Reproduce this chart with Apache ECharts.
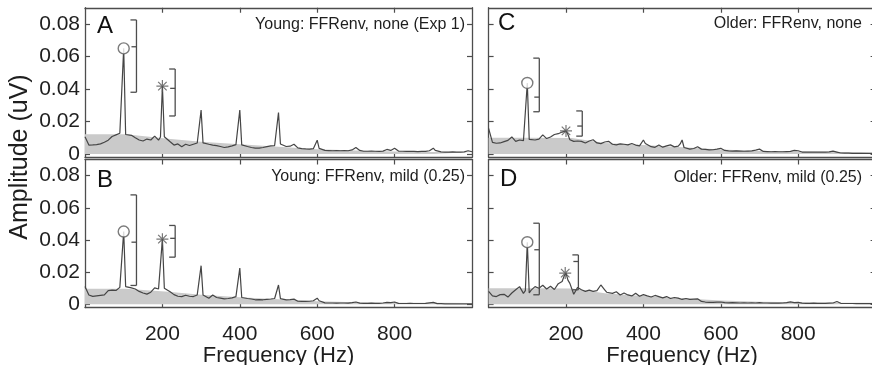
<!DOCTYPE html>
<html><head><meta charset="utf-8">
<script src="https://cdn.jsdelivr.net/npm/echarts@6/dist/echarts.min.js"></script>
<style>html,body{margin:0;padding:0;background:#fff}#c{width:872px;height:365px}</style>
</head><body><div id="c"></div>
<script>
// Frequency grid (Hz)
const freq = [
  0,10,20,30,40,50,60,70,80,90,95,
  100,105,110,120,130,140,150,160,170,180,190,195,
  200,205,210,220,230,240,250,260,270,280,290,295,
  300,305,310,320,330,340,350,360,370,380,390,395,
  400,405,410,420,430,440,450,460,470,480,490,495,
  500,505,510,520,530,540,550,560,570,580,590,595,
  600,605,610,620,630,640,650,660,670,680,690,695,
  700,705,710,720,730,740,750,760,770,780,790,795,
  800,805,810,820,830,840,850,860,870,880,890,895,
  900,905,910,920,930,940,950,960,970,980,990,995,
  1000];

// Panel A: Young, none (Exp 1)
const ampA = [
  0.0106,0.0055,0.0056,0.0058,0.0062,0.0072,0.0085,0.0108,0.0118,0.0128,0.0122,
  0.0650,0.0120,0.0118,0.0115,0.0100,0.0086,0.0080,0.0092,0.0086,0.0110,0.0085,0.0105,
  0.0418,0.0106,0.0104,0.0075,0.0055,0.0062,0.0045,0.0060,0.0052,0.0060,0.0068,0.0075,
  0.0270,0.0068,0.0066,0.0060,0.0055,0.0052,0.0046,0.0040,0.0044,0.0050,0.0058,0.0060,
  0.0270,0.0056,0.0055,0.0046,0.0040,0.0036,0.0036,0.0040,0.0045,0.0050,0.0052,0.0053,
  0.0255,0.0062,0.0060,0.0046,0.0048,0.0060,0.0038,0.0033,0.0031,0.0030,0.0033,0.0038,
  0.0085,0.0035,0.0030,0.0022,0.0021,0.0020,0.0021,0.0020,0.0021,0.0020,0.0025,0.0030,
  0.0040,0.0030,0.0022,0.0017,0.0017,0.0018,0.0017,0.0016,0.0018,0.0028,0.0022,0.0030,
  0.0036,0.0025,0.0018,0.0017,0.0016,0.0017,0.0016,0.0015,0.0016,0.0016,0.0020,0.0028,
  0.0036,0.0022,0.0014,0.0013,0.0012,0.0012,0.0013,0.0012,0.0012,0.0013,0.0020,0.0024,
  0.0014];

// Panel B: Young, mild (0.25)
const ampB = [
  0.0110,0.0058,0.0049,0.0052,0.0055,0.0058,0.0085,0.0088,0.0086,0.0105,0.0100,
  0.0452,0.0110,0.0110,0.0102,0.0095,0.0080,0.0070,0.0063,0.0075,0.0102,0.0095,0.0098,
  0.0405,0.0100,0.0098,0.0078,0.0060,0.0050,0.0048,0.0056,0.0050,0.0048,0.0058,0.0060,
  0.0240,0.0058,0.0052,0.0038,0.0058,0.0042,0.0038,0.0034,0.0036,0.0040,0.0048,0.0050,
  0.0225,0.0042,0.0040,0.0036,0.0033,0.0028,0.0029,0.0028,0.0031,0.0033,0.0036,0.0040,
  0.0120,0.0035,0.0028,0.0027,0.0029,0.0032,0.0019,0.0018,0.0018,0.0019,0.0022,0.0028,
  0.0038,0.0022,0.0014,0.0009,0.0008,0.0008,0.0007,0.0008,0.0008,0.0007,0.0010,0.0012,
  0.0014,0.0010,0.0007,0.0006,0.0006,0.0007,0.0006,0.0006,0.0008,0.0012,0.0010,0.0012,
  0.0014,0.0009,0.0006,0.0005,0.0005,0.0006,0.0005,0.0005,0.0005,0.0006,0.0009,0.0012,
  0.0012,0.0006,0.0004,0.0004,0.0003,0.0003,0.0003,0.0003,0.0002,0.0002,0.0002,0.0002,
  0.0002];

// Panel C: Older, none
const ampC = [
  0.0158,0.0072,0.0066,0.0068,0.0076,0.0084,0.0105,0.0078,0.0086,0.0082,0.0088,
  0.0437,0.0090,0.0090,0.0086,0.0092,0.0118,0.0095,0.0105,0.0120,0.0125,0.0135,0.0138,
  0.0142,0.0120,0.0088,0.0078,0.0080,0.0078,0.0068,0.0080,0.0088,0.0068,0.0064,0.0070,
  0.0074,0.0080,0.0078,0.0060,0.0056,0.0062,0.0060,0.0056,0.0065,0.0055,0.0050,0.0062,
  0.0086,0.0065,0.0055,0.0045,0.0041,0.0055,0.0042,0.0050,0.0056,0.0044,0.0048,0.0062,
  0.0086,0.0040,0.0030,0.0030,0.0034,0.0045,0.0030,0.0028,0.0025,0.0026,0.0030,0.0033,
  0.0035,0.0028,0.0022,0.0019,0.0018,0.0019,0.0018,0.0017,0.0018,0.0019,0.0024,0.0028,
  0.0030,0.0022,0.0016,0.0015,0.0014,0.0015,0.0014,0.0014,0.0015,0.0016,0.0022,0.0025,
  0.0020,0.0014,0.0012,0.0012,0.0011,0.0012,0.0011,0.0011,0.0012,0.0013,0.0018,0.0016,
  0.0012,0.0008,0.0006,0.0005,0.0005,0.0004,0.0004,0.0004,0.0004,0.0004,0.0004,0.0004,
  0.0004];

// Panel D: Older, mild (0.25)
const ampD = [
  0.0080,0.0052,0.0048,0.0060,0.0062,0.0045,0.0070,0.0090,0.0110,0.0068,0.0085,
  0.0386,0.0070,0.0088,0.0110,0.0100,0.0118,0.0095,0.0112,0.0092,0.0128,0.0142,0.0175,
  0.0194,0.0150,0.0130,0.0062,0.0105,0.0090,0.0080,0.0088,0.0080,0.0085,0.0120,0.0130,
  0.0090,0.0075,0.0070,0.0068,0.0078,0.0058,0.0070,0.0058,0.0052,0.0068,0.0050,0.0055,
  0.0060,0.0058,0.0052,0.0045,0.0055,0.0048,0.0040,0.0048,0.0036,0.0042,0.0038,0.0032,
  0.0030,0.0034,0.0036,0.0030,0.0032,0.0034,0.0018,0.0014,0.0012,0.0012,0.0014,0.0013,
  0.0014,0.0012,0.0010,0.0009,0.0010,0.0009,0.0008,0.0009,0.0008,0.0009,0.0008,0.0009,
  0.0010,0.0009,0.0008,0.0008,0.0007,0.0008,0.0007,0.0008,0.0010,0.0015,0.0010,0.0009,
  0.0012,0.0008,0.0007,0.0006,0.0006,0.0007,0.0006,0.0006,0.0006,0.0007,0.0008,0.0012,
  0.0017,0.0008,0.0006,0.0005,0.0005,0.0005,0.0004,0.0004,0.0004,0.0004,0.0004,0.0004,
  0.0004];

// Noise floor (grey area)
const noiseFreq = [0,105,215,300,400,500,600,700,800,900,1000];
const noiseA = [0.0121,0.0121,0.0094,0.0075,0.0060,0.0045,0.0030,0.0021,0.0016,0.0013,0.0012];
const noiseB = [0.0096,0.0096,0.0078,0.0060,0.0044,0.0031,0.0019,0.0013,0.0010,0.0009,0.0008];
const noiseC = [0.0100,0.0100,0.0098,0.0068,0.0055,0.0042,0.0028,0.0019,0.0015,0.0012,0.0010];
const noiseD = [0.0100,0.0100,0.0098,0.0068,0.0052,0.0038,0.0024,0.0016,0.0012,0.0010,0.0009];

// Markers: F0 (circle) and 2F0 (asterisk) peaks
const circleA = [100, 0.0650], circleB = [100, 0.0452], circleC = [100, 0.0437], circleD = [100, 0.0386];
const starA = [200, 0.0418], starB = [200, 0.0405], starC = [200, 0.0142], starD = [198, 0.0194];

// Range brackets: [freq, low, mid, high]
const bracketsA = [[133, 0.0380, 0.0660, 0.0825], [233, 0.0234, 0.0404, 0.0523]];
const bracketsB = [[133, 0.0117, 0.0386, 0.0680], [233, 0.0293, 0.0410, 0.0490]];
const bracketsC = [[131, 0.0260, 0.0350, 0.0590], [242, 0.0110, 0.0172, 0.0265]];
const bracketsD = [[131, 0.0059, 0.0339, 0.0504], [232, 0.0090, 0.0266, 0.0307]];

const panelTitles = ['Young: FFRenv, none (Exp 1)', 'Young: FFRenv, mild (0.25)', 'Older: FFRenv, none', 'Older: FFRenv, mild (0.25)'];
const panelLetters = ['A', 'B', 'C', 'D'];
const xTicks = [200, 400, 600, 800];
const yTicks = [0, 0.02, 0.04, 0.06, 0.08];
const xName = 'Frequency (Hz)';
const yName = 'Amplitude (uV)';

// ---------- layout / style ----------
const FONT = '"Liberation Sans", Arial, sans-serif';
const FRAME = '#4d4d4d';
const TEXT = '#1e1e1e';
const LINE = '#454545';

const grids = [
  {left: 85, top: 7.75, width: 387, height: 149.5},
  {left: 85, top: 159.5, width: 387, height: 148},
  {left: 488.6, top: 7.75, width: 387, height: 149.5},
  {left: 488.6, top: 159.5, width: 387, height: 148}
];
const showX = [false, true, false, true];
const showY = [true, true, false, false];
const amps = [ampA, ampB, ampC, ampD];
const noises = [noiseA, noiseB, noiseC, noiseD];
const circles = [circleA, circleB, circleC, circleD];
const stars = [starA, starB, starC, starD];
const brackets = [bracketsA, bracketsB, bracketsC, bracketsD];
const titlePos = [[465, 25], [465, 177], [862, 24], [862, 178]];
const letterPos = [[97, 26.5], [97, 180], [498, 23.5], [500, 179]];

const xAxis = [], yAxis = [], series = [], graphic = [];
grids.forEach((g, i) => {
  const axLine = {show: true, onZero: false, lineStyle: {color: FRAME, width: 1.3}};
  const xb = {type: 'value', gridIndex: i, min: 0, max: 1000, axisLine: axLine,
    axisTick: {show: true, inside: true, length: 5, customValues: xTicks, lineStyle: {color: FRAME, width: 1.2}},
    splitLine: {show: false}};
  xAxis.push(Object.assign({}, xb, {position: 'bottom',
    axisLabel: {show: showX[i], customValues: xTicks, fontSize: 21, color: TEXT, margin: 16, fontFamily: FONT},
    name: showX[i] ? xName : '', nameLocation: 'middle', nameGap: 33,
    nameTextStyle: {fontSize: 22, color: TEXT, fontFamily: FONT}}));
  xAxis.push(Object.assign({}, xb, {position: 'top', axisLabel: {show: false}}));
  const yb = {type: 'value', gridIndex: i, min: -0.002, max: 0.09, axisLine: axLine,
    axisTick: {show: true, inside: true, length: 5, customValues: yTicks, lineStyle: {color: FRAME, width: 1.2}},
    splitLine: {show: false}};
  yAxis.push(Object.assign({}, yb, {position: 'left',
    axisLabel: {show: showY[i], customValues: yTicks, fontSize: 21, color: TEXT, margin: 5, fontFamily: FONT,
      formatter: v => (Math.abs(v) < 1e-9 ? '0' : v.toFixed(2))}}));
  yAxis.push(Object.assign({}, yb, {position: 'right', axisLabel: {show: false}}));

  const xi = 2 * i, yi = 2 * i;
  series.push({type: 'line', xAxisIndex: xi, yAxisIndex: yi, z: 2, silent: true,
    data: noiseFreq.map((f, k) => [f, noises[i][k]]), symbol: 'none',
    lineStyle: {width: 0}, areaStyle: {color: '#cacaca', opacity: 1}});
  series.push({type: 'line', xAxisIndex: xi, yAxisIndex: yi, z: 3, silent: true,
    data: freq.map((f, k) => [f, amps[i][k]]), symbol: 'none',
    lineStyle: {color: LINE, width: 1.2}});
  series.push({type: 'custom', xAxisIndex: xi, yAxisIndex: yi, z: 4, silent: true,
    data: brackets[i], encode: {x: 0, y: [1, 2, 3]},
    renderItem: function (params, api) {
      const f = api.value(0);
      const lo = api.coord([f, api.value(1)]);
      const mid = api.coord([f, api.value(2)]);
      const hi = api.coord([f, api.value(3)]);
      const x = lo[0];
      const st = {stroke: FRAME, lineWidth: 1.3, fill: null};
      return {type: 'group', children: [
        {type: 'line', shape: {x1: x, y1: lo[1], x2: x, y2: hi[1]}, style: st},
        {type: 'line', shape: {x1: x - 6, y1: hi[1], x2: x, y2: hi[1]}, style: st},
        {type: 'line', shape: {x1: x - 6, y1: lo[1], x2: x, y2: lo[1]}, style: st},
        {type: 'line', shape: {x1: x - 5, y1: mid[1], x2: x, y2: mid[1]}, style: st}
      ]};
    }});
  series.push({type: 'scatter', xAxisIndex: xi, yAxisIndex: yi, z: 5, silent: true,
    data: [circles[i]], symbol: 'circle', symbolSize: 11,
    itemStyle: {color: '#ffffff', borderColor: '#5a5a5a', borderWidth: 1.4}});
  series.push({type: 'scatter', xAxisIndex: xi, yAxisIndex: yi, z: 5, silent: true,
    data: [stars[i]], symbolSize: 12, symbolKeepAspect: true,
    symbol: 'path://M12 0L12 24M0 12L24 12M3.5 3.5L20.5 20.5M3.5 20.5L20.5 3.5',
    itemStyle: {color: 'rgba(0,0,0,0)', borderColor: '#555555', borderWidth: 1.2}});

  graphic.push({type: 'text', x: titlePos[i][0], y: titlePos[i][1], z: 10, silent: true,
    style: {text: panelTitles[i], font: '16px ' + FONT, fill: TEXT,
      align: 'right', textAlign: 'right', verticalAlign: 'middle', textVerticalAlign: 'middle'}});
  graphic.push({type: 'text', x: letterPos[i][0], y: letterPos[i][1], z: 10, silent: true,
    style: {text: panelLetters[i], font: '24px ' + FONT, fill: '#111',
      align: 'left', textAlign: 'left', verticalAlign: 'middle', textVerticalAlign: 'middle'}});
});
graphic.push({type: 'text', x: 20, y: 157, rotation: Math.PI / 2, z: 10, silent: true,
  style: {text: yName, font: '25px ' + FONT, fill: TEXT,
    align: 'center', textAlign: 'center', verticalAlign: 'middle', textVerticalAlign: 'middle'}});

const chart = echarts.init(document.getElementById('c'), null, {renderer: 'canvas'});
chart.setOption({
  animation: false,
  backgroundColor: '#ffffff',
  textStyle: {fontFamily: FONT},
  grid: grids.map(g => Object.assign({outerBoundsMode: 'none', containLabel: false}, g)),
  xAxis, yAxis, series, graphic
});
</script></body></html>
